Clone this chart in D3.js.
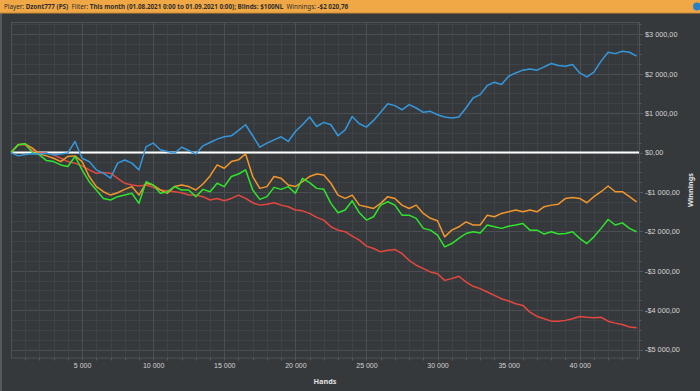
<!DOCTYPE html>
<html>
<head>
<meta charset="utf-8">
<script src="https://cdn.jsdelivr.net/npm/d3@7"></script>
<style>
  body { margin: 0; background: #36393c; }
  svg { display: block; font-family: "Noto Sans", "Open Sans", sans-serif; }
</style>
</head>
<body>
<svg></svg>
<script>
// Hands sampled every 500
let hands = d3.range(0, 44001, 500);

// Winnings per series
let blueValues = [0, -85, -50, -30, -40, -20, -60, -40, -10, 280, -145, -230, -440, -525, -650, -270, -190, -270, -440, 150, 240, 70, 25, -15, 135, 50, -35, 170, 255, 340, 400, 425, 560, 705, 425, 135, 240, 320, 400, 280, 535, 705, 900, 660, 765,
	705, 425, 575, 915, 730, 645, 815, 1020, 1240, 1190, 1085, 1215, 1130, 1020, 1045, 960, 900, 875, 900, 1130, 1385, 1470, 1700, 1785, 1725, 1935, 2020, 2090, 2120, 2090, 2175, 2260, 2210, 2190, 2235, 2020, 1920, 2040, 2320, 2545, 2510, 2570, 2545, 2445];
let orangeValues = [0, 195, 220, 110, -35, -85, -145, -230, -100, -85, -230, -610, -865, -995, -1080, -1020, -935, -865, -1080, -780, -825, -950, -1035, -865, -825, -865, -950, -800, -595, -315, -400, -230, -185, -35, -610, -910, -865, -610, -655, -825, -865, -740, -610, -545, -570,
	-780, -1080, -1165, -1080, -1335, -1375, -1420, -1290, -1120, -1165, -1335, -1420, -1335, -1545, -1670, -1730, -2140, -1970, -1885, -1760, -1840, -1840, -1590, -1630, -1545, -1505, -1460, -1505, -1460, -1505, -1375, -1335, -1310, -1165, -1140, -1165, -1275, -1120, -995, -850, -995, -995, -1120, -1250];
let greenValues = [0, 195, 220, 0, -60, -205, -230, -315, -355, -100, -440, -740, -950, -1165, -1205, -1120, -1080, -1035, -1290, -740, -825, -1035, -995, -865, -950, -950, -1120, -935, -995, -780, -865, -610, -545, -440, -950, -1190, -1120, -885, -935, -865, -1035, -655, -765, -910, -935,
	-1290, -1530, -1460, -1225, -1530, -1715, -1630, -1335, -1250, -1335, -1590, -1590, -1670, -1925, -1970, -2095, -2395, -2310, -2180, -2055, -2010, -2040, -1840, -1885, -1925, -1870, -1840, -1800, -1970, -1970, -2070, -2010, -2070, -2055, -2010, -2180, -2310, -2140, -1925, -1700, -1840, -1785, -1925, -2010];
let redValues = [0, 195, 195, 50, -15, -15, -60, -145, -230, -270, -340, -440, -525, -510, -525, -655, -780, -825, -850, -825, -885, -950, -970, -995, -1020, -1080, -1080, -1120, -1205, -1165, -1225, -1165, -1080, -1165, -1275, -1335, -1310, -1275, -1335, -1375, -1460, -1480, -1545, -1645, -1715,
	-1885, -1970, -2010, -2120, -2225, -2375, -2435, -2520, -2480, -2460, -2565, -2735, -2860, -2945, -3030, -3075, -3245, -3200, -3140, -3285, -3395, -3455, -3540, -3625, -3710, -3770, -3840, -3880, -4050, -4160, -4220, -4280, -4280, -4260, -4220, -4160, -4180, -4195, -4180, -4280, -4330, -4365, -4430, -4450];

// Tick values
let xTicks = [5000, 10000, 15000, 20000, 25000, 30000, 35000, 40000];
let yTicks = [3000, 2000, 1000, 0, -1000, -2000, -3000, -4000, -5000];

let width = 700;
let height = 391;
let plotLeft = 11;
let plotRight = 639;
let plotTop = 22.5;
let plotBottom = 358;

let svg = d3.select("svg").attr("width", width).attr("height", height);

let locale = d3.formatLocale({ decimal: ",", thousands: " ", grouping: [3], currency: ["$", ""], minus: "-" });
let fmtMoney = locale.format("$,.2f");
let fmtHands = locale.format(",d");

let xScale = d3.scaleLinear().domain([0, 44170]).range([plotLeft, plotRight]);
let yScale = d3.scaleLinear().domain([-5215, 3300]).range([plotBottom, plotTop]);

// window frame
svg.append("rect").attr("x", 0).attr("y", 13).attr("width", 2).attr("height", height - 13).attr("fill", "#56595d");

// title bar
svg.append("rect").attr("x", 0).attr("y", 0).attr("width", width).attr("height", 13).attr("fill", "#f0a846");
svg.append("line").attr("x1", 0).attr("x2", width).attr("y1", 13).attr("y2", 13).attr("stroke", "#c98b35");
svg.append("circle").attr("cx", 697).attr("cy", 6.5).attr("r", 4).attr("fill", "#2b7fc4");

let title = svg.append("text").attr("x", 4).attr("y", 9.2).attr("font-size", 6.3).attr("fill", "#2e2e2e");
[["Player: ", 400], ["Dzont777 (PS)", 700], ["  Filter: ", 400], ["This month (01.08.2021 0:00 to 01.09.2021 0:00); Blinds: $100NL", 700], ["  Winnings: ", 400], ["-$2 020,76", 700]]
	.forEach(([t, w]) => title.append("tspan").attr("font-weight", w).attr("xml:space", "preserve").text(t));

// grid
let grid = svg.append("g");
grid.selectAll(".ym").data(d3.range(-5000, 3300, 250)).join("line")
	.attr("x1", plotLeft).attr("x2", plotRight)
	.attr("y1", (d) => Math.round(yScale(d)) + 0.5).attr("y2", (d) => Math.round(yScale(d)) + 0.5)
	.attr("stroke", (d) => d % 1000 === 0 ? "#4b4e52" : "#3f4246");
grid.selectAll(".xm").data(d3.range(1000, 44170, 1000)).join("line")
	.attr("y1", plotTop).attr("y2", plotBottom)
	.attr("x1", (d) => Math.round(xScale(d)) + 0.5).attr("x2", (d) => Math.round(xScale(d)) + 0.5)
	.attr("stroke", (d) => d % 5000 === 0 ? "#4b4e52" : "#3f4246");
svg.append("rect").attr("x", plotLeft + 0.5).attr("y", plotTop).attr("width", plotRight - plotLeft).attr("height", plotBottom - plotTop)
	.attr("fill", "none").attr("stroke", "#4e5155");

// axes
let xAxis = d3.axisBottom(xScale).tickValues(xTicks).tickFormat(fmtHands).tickSize(0).tickPadding(5);
let gx = svg.append("g").attr("transform", "translate(0, " + plotBottom + ")").call(xAxis);
gx.select(".domain").remove();
gx.selectAll("text").attr("fill", "#d4d4d4").attr("font-size", 7);
svg.append("g").selectAll("line").data(d3.range(1000, 44170, 1000)).join("line")
	.attr("x1", (d) => Math.round(xScale(d)) + 0.5).attr("x2", (d) => Math.round(xScale(d)) + 0.5)
	.attr("y1", plotBottom).attr("y2", plotBottom + 2.5).attr("stroke", "#55585c");

let yAxis = d3.axisRight(yScale).tickValues(yTicks).tickFormat(fmtMoney).tickSize(0).tickPadding(6);
let gy = svg.append("g").attr("transform", "translate(" + plotRight + ", 0)").call(yAxis);
gy.select(".domain").remove();
gy.selectAll("text").attr("fill", "#d4d4d4").attr("font-size", 7.3);
svg.append("g").selectAll("line").data(d3.range(-5000, 3300, 250)).join("line")
	.attr("y1", (d) => Math.round(yScale(d)) + 0.5).attr("y2", (d) => Math.round(yScale(d)) + 0.5)
	.attr("x1", plotRight).attr("x2", (d) => plotRight + (d % 1000 === 0 ? 4 : 2.5)).attr("stroke", "#55585c");

svg.append("text").attr("x", 325).attr("y", 384).attr("text-anchor", "middle")
	.attr("font-size", 7.3).attr("font-weight", 700).attr("fill", "#e0e0e0").text("Hands");
svg.append("text").attr("transform", "translate(693, 190) rotate(-90)").attr("text-anchor", "middle")
	.attr("font-size", 7.3).attr("font-weight", 700).attr("fill", "#e0e0e0").text("Winnings");

// zero line
svg.append("line").attr("x1", plotLeft).attr("x2", plotRight).attr("y1", yScale(0)).attr("y2", yScale(0))
	.attr("stroke", "#ffffff").attr("stroke-width", 2);

// lines
let line = d3.line().x((d, i) => xScale(hands[i])).y((d) => yScale(d));
let series = [
	[redValues, "#e5473f"],
	[orangeValues, "#f2962c"],
	[greenValues, "#2fe52c"],
	[blueValues, "#3597dc"]
];
series.forEach(([vals, color]) => {
	svg.append("path").datum(vals).attr("d", line)
		.attr("fill", "none").attr("stroke", color).attr("stroke-width", 1.5).attr("stroke-linejoin", "round");
});
</script>
</body>
</html>
